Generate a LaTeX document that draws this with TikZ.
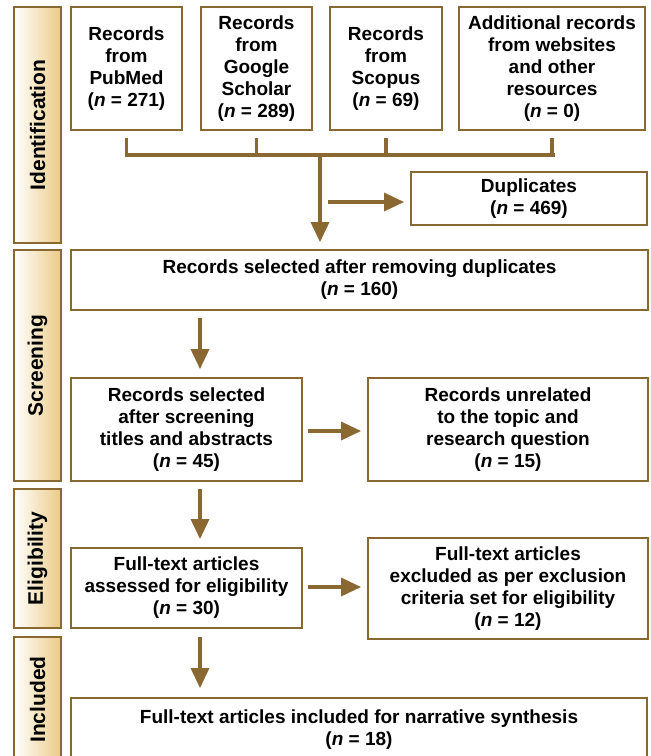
\documentclass[tikz,border=0pt]{standalone}
\usepackage{fontspec}
\setmainfont{Liberation Sans}
\usetikzlibrary{arrows.meta}
\definecolor{brn}{RGB}{138,104,50}
\definecolor{gold}{RGB}{235,203,135}
\tikzset{
  box/.style={draw=brn, line width=1.8pt, fill=white, inner sep=0pt, align=center,
    font=\fontsize{19}{22}\selectfont\bfseries},
  bar/.style={draw=brn, line width=1.8pt, inner sep=0pt, rotate=90,
    left color=white, right color=gold, minimum height=47pt,
    font=\fontsize{21}{24}\selectfont\bfseries},
  conn/.style={draw=brn, line width=3.4pt},
  arr/.style={conn, -{Triangle[length=20pt,width=18pt]}},
}
\newcommand{\nn}[1]{(\textit{n} = #1)}
\begin{document}
\begin{tikzpicture}[x=1pt,y=-1pt]
\useasboundingbox (0,0) rectangle (651,756);
% side bars
\node[bar, minimum width=236pt] (bid) at (37.5,125) {Identification};
\node[bar, minimum width=231pt] (bsc) at (37.5,365.5) {Screening};
\node[bar, minimum width=139pt] (bel) at (37.5,558.5) {Eligibility};
\node[bar, minimum width=125pt] (bin) at (37.5,699.5) {Included};
% boxes
\node[box, minimum width=111pt, minimum height=123pt] (pub) at (126.5,68.5) {Records\\from\\PubMed\\\nn{271}};
\node[box, minimum width=111pt, minimum height=123pt] (gs) at (256.5,68.5) {Records\\from\\Google\\Scholar\\\nn{289}};
\node[box, minimum width=112pt, minimum height=123pt] (sco) at (386,68.5) {Records\\from\\Scopus\\\nn{69}};
\node[box, minimum width=186pt, minimum height=123pt] (add) at (552,68.5) {Additional records\\from websites\\and other\\resources\\\nn{0}};
\node[box, minimum width=236pt, minimum height=53pt] (dup) at (529,198.5) {Duplicates\\\nn{469}};
\node[box, minimum width=577pt, minimum height=60pt] (r160) at (359.5,280) {Records selected after removing duplicates\\\nn{160}};
\node[box, minimum width=231pt, minimum height=103pt] (r45) at (186.5,429.5) {Records selected\\after screening\\titles and abstracts\\\nn{45}};
\node[box, minimum width=280pt, minimum height=103pt] (r15) at (508,429.5) {Records unrelated\\to the topic and\\research question\\\nn{15}};
\node[box, minimum width=231pt, minimum height=80pt] (ft30) at (186.5,588) {Full-text articles\\assessed for eligibility\\\nn{30}};
\node[box, minimum width=280pt, minimum height=101pt] (ex12) at (508,588.5) {Full-text articles\\excluded as per exclusion\\criteria set for eligibility\\\nn{12}};
\node[box, minimum width=576pt, minimum height=64pt] (fin) at (359,730) {Full-text articles included for narrative synthesis\\\nn{18}};
% connectors
\coordinate (jl) at (127,155);
\coordinate (jr) at (553,155);
\coordinate (jn) at (320,155);
\coordinate (dd) at (328,202);
\draw[conn] ([yshift=-7pt]pub.south) -- (pub.south |- jl);
\draw[conn] ([yshift=-7pt]gs.south) -- (gs.south |- jl);
\draw[conn] ([yshift=-7pt]sco.south) -- (sco.south |- jl);
\draw[conn] ([yshift=-7pt]add.south) -- (add.south |- jl);
\draw[conn, line cap=butt] ([xshift=-1.7pt]jl) -- ([xshift=1.7pt]jr);
\draw[arr] (jn) -- (jn |- r160.north) [shorten >=7pt];
\draw[arr, shorten >=6pt] (dd) -- (dd -| dup.west);
\coordinate (a1) at (200,318);
\draw[arr, shorten >=8pt] (a1) -- (a1 |- r45.north);
\coordinate (a2) at (308,431);
\draw[arr, shorten >=6pt] (a2) -- (a2 -| r15.west);
\coordinate (a3) at (200,489);
\draw[arr, shorten >=8pt] (a3) -- (a3 |- ft30.north);
\coordinate (a4) at (308,587);
\draw[arr, shorten >=6pt] (a4) -- (a4 -| ex12.west);
\coordinate (a5) at (200,637);
\draw[arr, shorten >=9pt] (a5) -- (a5 |- fin.north);
\end{tikzpicture}
\end{document}
